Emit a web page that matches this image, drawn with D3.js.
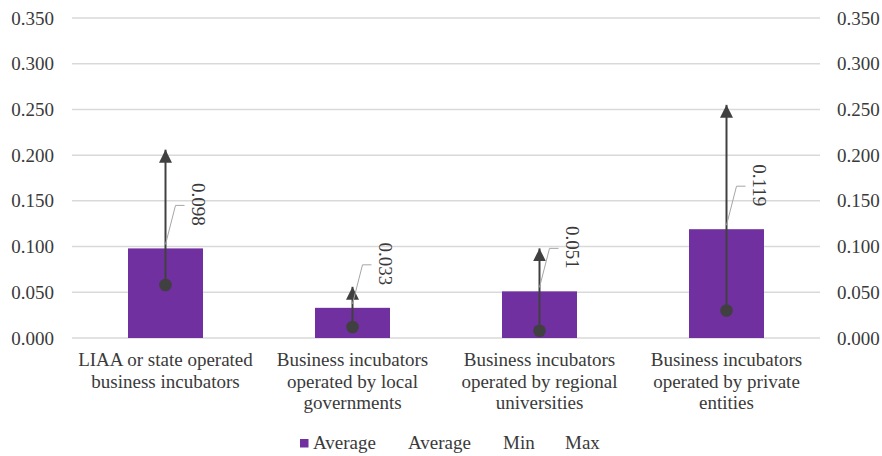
<!DOCTYPE html>
<html>
<head>
<meta charset="utf-8">
<script src="https://cdn.jsdelivr.net/npm/d3@7"></script>
<style>
  html, body { margin: 0; padding: 0; background: #fff; }
  svg { display: block; }
</style>
</head>
<body>
<svg id="chart" width="882" height="456"></svg>
<script>
// Incubator categories (multi-line labels)
const categories = [
  ["LIAA or state operated", "business incubators"],
  ["Business incubators", "operated by local", "governments"],
  ["Business incubators", "operated by regional", "universities"],
  ["Business incubators", "operated by private", "entities"]
];
const averageValues = [0.098, 0.033, 0.051, 0.119];
const minValues = [0.058, 0.012, 0.008, 0.030];
const maxValues = [0.206, 0.056, 0.098, 0.255];
const tickValues = [0, 0.05, 0.1, 0.15, 0.2, 0.25, 0.3, 0.35];
const legendLabels = ["Average", "Average", "Min", "Max"];

const svg = d3.select("#chart")
  .attr("font-family", "'Times New Roman', 'Liberation Serif', Tinos, 'DejaVu Serif', serif")
  .attr("font-size", 19);
const margin = { left: 72, right: 62, top: 18, bottom: 118 };
const W = 882, H = 456;
const plotW = W - margin.left - margin.right;
const plotH = H - margin.top - margin.bottom;

const x = d3.scaleBand().domain(d3.range(categories.length))
  .range([margin.left, margin.left + plotW]).paddingInner(0).paddingOuter(0);
const y = d3.scaleLinear().domain([0, 0.35]).range([margin.top + plotH, margin.top]);

const textColor = "#3a3a3a";
const fmt = d3.format(".3f");

// Gridlines
svg.append("g").selectAll("line").data(tickValues).join("line")
  .attr("x1", margin.left).attr("x2", margin.left + plotW)
  .attr("y1", d => y(d)).attr("y2", d => y(d))
  .attr("stroke", "#d9d9d9").attr("stroke-width", 1.5);

// Left and right value axes
const leftAxis = d3.axisLeft(y).tickValues(tickValues).tickFormat(fmt).tickSize(0).tickPadding(18);
const rightAxis = d3.axisRight(y).tickValues(tickValues).tickFormat(fmt).tickSize(0).tickPadding(17);
[[leftAxis, margin.left], [rightAxis, margin.left + plotW]].forEach(([ax, tx]) => {
  const g = svg.append("g").attr("transform", `translate(${tx},0)`).call(ax);
  g.attr("font-family", null).attr("font-size", null);
  g.select(".domain").remove();
  g.selectAll("text").attr("fill", textColor);
});

// Bars (averages)
const barW = 75;
svg.append("g").selectAll("rect").data(averageValues).join("rect")
  .attr("x", (d, i) => x(i) + x.bandwidth() / 2 - barW / 2)
  .attr("width", barW)
  .attr("y", d => y(d))
  .attr("height", d => y(0) - y(d))
  .attr("fill", "#7030a0");

// Arrowhead marker for the min–max range
const defs = svg.append("defs");
defs.append("marker")
  .attr("id", "arrow").attr("viewBox", "0 0 10 10")
  .attr("refX", 10).attr("refY", 5)
  .attr("markerWidth", 6.5).attr("markerHeight", 6.5)
  .attr("markerUnits", "strokeWidth")
  .attr("orient", "auto")
  .append("path").attr("d", "M0,0 L10,5 L0,10 Z").attr("fill", "#404040");

const cx = i => x(i) + x.bandwidth() / 2;

// Range lines from min to max
svg.append("g").selectAll("line").data(d3.range(categories.length)).join("line")
  .attr("x1", i => cx(i)).attr("x2", i => cx(i))
  .attr("y1", i => y(minValues[i])).attr("y2", i => y(maxValues[i]))
  .attr("stroke", "#404040").attr("stroke-width", 2)
  .attr("marker-end", "url(#arrow)");

// Min markers
svg.append("g").selectAll("circle").data(minValues).join("circle")
  .attr("cx", (d, i) => cx(i)).attr("cy", d => y(d))
  .attr("r", 6.3).attr("fill", "#404040");

// Data labels with leader lines
const lbl = svg.append("g");
averageValues.forEach((v, i) => {
  const bx = cx(i), by = y(v);
  const lx = bx + 33, ly = by - 44;
  lbl.append("path")
    .attr("d", `M${bx},${by - 4} L${bx + 10},${by - 43} L${bx + 19},${by - 43}`)
    .attr("fill", "none").attr("stroke", "#a6a6a6").attr("stroke-width", 1);
  lbl.append("text")
    .attr("transform", `translate(${lx},${ly}) rotate(90)`)
    .attr("text-anchor", "middle").attr("dy", "0.35em")
    .attr("fill", textColor)
    .text(fmt(v));
});

// Category labels
const cat = svg.append("g");
categories.forEach((lines, i) => {
  const t = cat.append("text").attr("text-anchor", "middle").attr("fill", textColor);
  lines.forEach((ln, j) => {
    t.append("tspan").attr("x", cx(i)).attr("y", 366 + j * 21.5).text(ln);
  });
});

// Legend
const legend = svg.append("g");
legend.append("rect").attr("x", 300).attr("y", 439).attr("width", 8.5).attr("height", 8.5).attr("fill", "#7030a0");
const legendX = [313, 408, 503, 565];
legendLabels.forEach((l, i) => {
  legend.append("text").attr("x", legendX[i]).attr("y", 449).attr("fill", textColor).text(l);
});
</script>
</body>
</html>
